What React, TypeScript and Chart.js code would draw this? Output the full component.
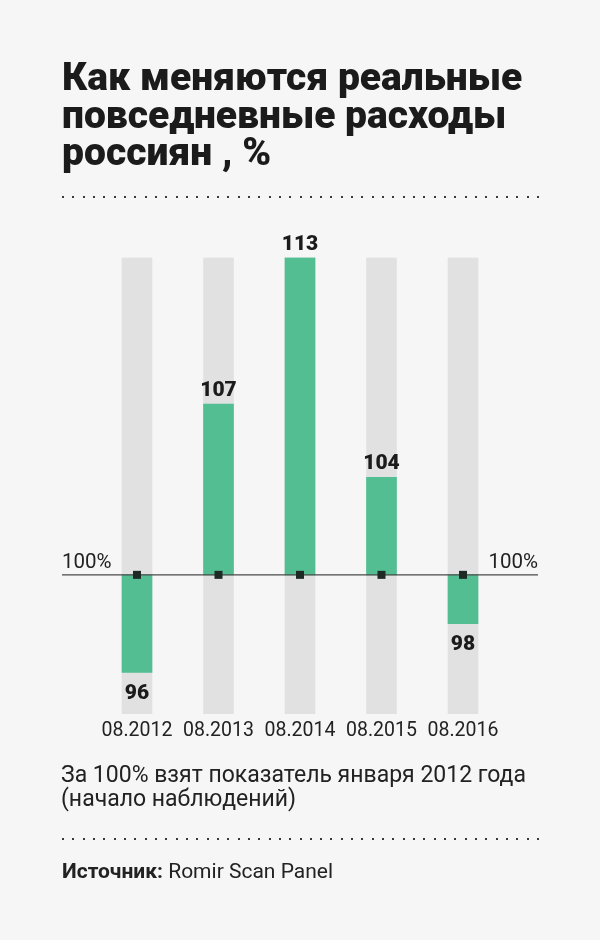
import React, { useEffect, useRef } from "react";
import { Chart, registerables } from "chart.js";

Chart.register(...registerables);

const categories = ["08.2012", "08.2013", "08.2014", "08.2015", "08.2016"];
const values = [96, 107, 113, 104, 98];
const baseValue = 100;
const rangeMin = 94.3;
const rangeMax = 113;
const trackValues = categories.map(() => [rangeMin, rangeMax]);
const titleLines = ["Как меняются реальные", "повседневные расходы", "россиян , %"];
const noteLines = ["За 100% взят показатель января 2012 года", "(начало наблюдений)"];
const sourceLabel = "Источник:";
const sourceText = " Romir Scan Panel";
const baseLabel = "100%";

const GREEN = "#52be92";
const GREY = "#e1e1e1";
const BG = "#f6f6f6";
const INK = "#1b1b1b";
const FONT = "Roboto, 'Open Sans', sans-serif";

function drawDots(ctx: CanvasRenderingContext2D, y: number) {
  ctx.fillStyle = "#3a3a3a";
  const x0 = 63;
  const x1 = 538;
  const n = 47;
  const step = (x1 - x0) / (n - 1);
  for (let i = 0; i < n; i++) {
    ctx.fillRect(Math.round(x0 + i * step) - 1, y - 1, 2, 2);
  }
}

const decor = {
  id: "decor",
  beforeDraw(chart: any) {
    const ctx: CanvasRenderingContext2D = chart.ctx;
    ctx.save();
    ctx.fillStyle = BG;
    ctx.fillRect(0, 0, chart.width, chart.height);
    ctx.fillStyle = INK;
    ctx.textAlign = "left";
    ctx.textBaseline = "alphabetic";
    ctx.font = `900 39px ${FONT}`;
    titleLines.forEach((t, i) => ctx.fillText(t, 62, 90 + i * 37.5));
    drawDots(ctx, 197);
    drawDots(ctx, 839);
    ctx.fillStyle = "#222";
    ctx.font = `23px ${FONT}`;
    noteLines.forEach((t, i) => ctx.fillText(t, 61, 782 + i * 24));
    ctx.font = `bold 21px ${FONT}`;
    ctx.fillText(sourceLabel, 62, 878);
    const w = ctx.measureText(sourceLabel).width;
    ctx.font = `21px ${FONT}`;
    ctx.fillText(sourceText, 62 + w, 878);
    ctx.restore();
  },
  afterDatasetsDraw(chart: any) {
    const ctx: CanvasRenderingContext2D = chart.ctx;
    const xs = chart.scales.x;
    const ys = chart.scales.y;
    const yb = ys.getPixelForValue(baseValue);
    ctx.save();
    ctx.strokeStyle = "#4a4a4a";
    ctx.lineWidth = 1.2;
    ctx.beginPath();
    ctx.moveTo(62, yb);
    ctx.lineTo(538, yb);
    ctx.stroke();
    ctx.fillStyle = "#1e2a25";
    categories.forEach((_, i) => {
      const x = xs.getPixelForValue(i);
      ctx.fillRect(x - 4, yb - 4, 8, 8);
    });
    ctx.fillStyle = "#222";
    ctx.font = `20.5px ${FONT}`;
    ctx.textBaseline = "alphabetic";
    ctx.textAlign = "left";
    ctx.fillText(baseLabel, 62, yb - 7);
    ctx.textAlign = "right";
    ctx.fillText(baseLabel, 538, yb - 7);
    ctx.textAlign = "center";
    ctx.font = `900 21px ${FONT}`;
    ctx.fillStyle = INK;
    values.forEach((v, i) => {
      const x = xs.getPixelForValue(i);
      const y = ys.getPixelForValue(v);
      if (v >= baseValue) ctx.fillText(String(v), x, y - 8);
      else ctx.fillText(String(v), x, y + 26);
    });
    ctx.restore();
  },
};

export default function App() {
  const ref = useRef<HTMLCanvasElement | null>(null);
  useEffect(() => {
    if (!ref.current) return;
    const chart = new Chart(ref.current, {
      type: "bar",
      data: {
        labels: categories,
        datasets: [
          {
            data: values,
            base: baseValue,
            backgroundColor: GREEN,
            barThickness: 30,
            grouped: false,
            order: 0,
          } as any,
          {
            data: trackValues as any,
            backgroundColor: GREY,
            barThickness: 30,
            grouped: false,
            order: 1,
          } as any,
        ],
      },
      options: {
        responsive: false,
        animation: false,
        events: [],
        layout: { padding: { left: 96.25, right: 96.25, top: 257.5, bottom: 186 } },
        plugins: { legend: { display: false }, tooltip: { enabled: false }, title: { display: false } },
        scales: {
          x: {
            offset: true,
            grid: { display: false, drawTicks: false },
            border: { display: false },
            ticks: { color: "#222", font: { family: FONT, size: 19.5 }, padding: 5, maxRotation: 0, autoSkip: false },
            afterFit: (s: any) => {
              s.height = 40;
            },
          },
          y: {
            display: false,
            min: rangeMin,
            max: rangeMax,
          },
        },
      },
      plugins: [decor],
    });
    return () => chart.destroy();
  }, []);
  return (
    <div style={{ position: "absolute", left: 0, top: 0, width: 600, height: 940, background: BG }}>
      <canvas ref={ref} width={600} height={940} style={{ display: "block", width: 600, height: 940 }} />
    </div>
  );
}
